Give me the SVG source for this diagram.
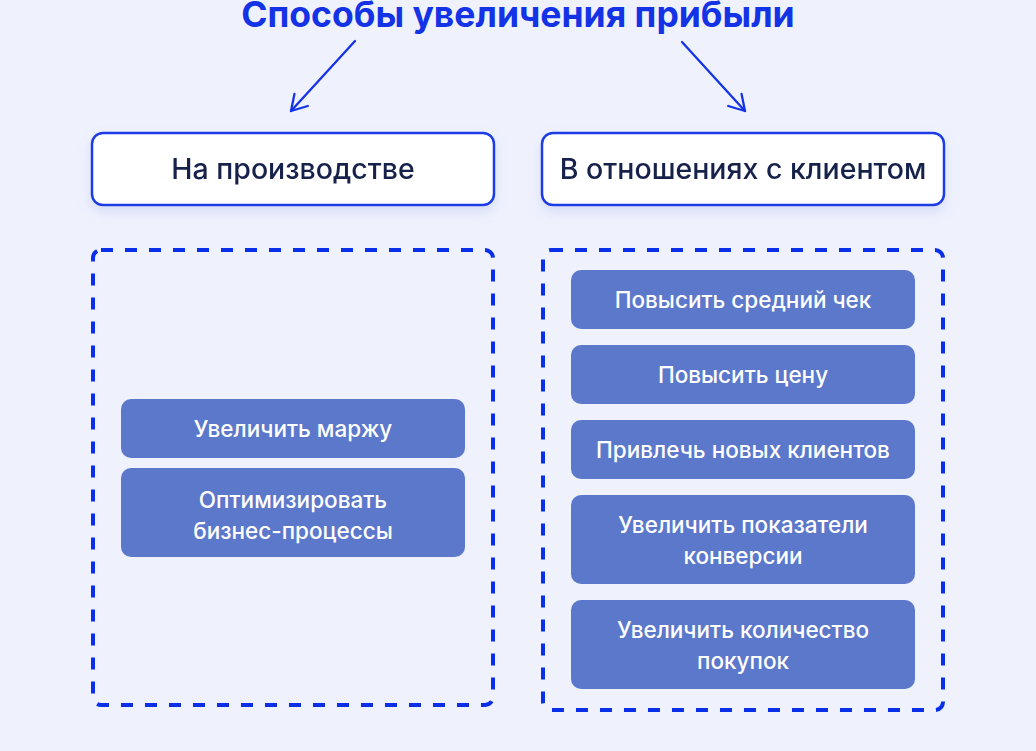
<svg xmlns="http://www.w3.org/2000/svg" width="1036" height="751" viewBox="0 0 1036 751">
  <defs>
    <filter id="sh" x="-10%" y="-30%" width="120%" height="170%">
      <feDropShadow dx="0" dy="6" stdDeviation="6" flood-color="#8C9BE0" flood-opacity="0.25"/>
    </filter>
    <marker id="ah" viewBox="0 0 22 22" refX="20" refY="11" markerWidth="22" markerHeight="22" markerUnits="userSpaceOnUse" orient="auto">
      <path d="M5,2 L20,11 L5,20" fill="none" stroke="#1433E6" stroke-width="2.3" stroke-linecap="round" stroke-linejoin="round"/>
    </marker>
  </defs>
  <style>
    .title { font-family: Inter, "Noto Sans", "DejaVu Sans", sans-serif; font-weight: 700; font-size: 35.5px; fill: #1433E6; }
    .head rect { fill: #FFFFFF; stroke: #1A3CE6; stroke-width: 2.5; }
    .head text { font-family: Inter, "Noto Sans", "DejaVu Sans", sans-serif; font-size: 28.5px; font-weight: 500; fill: #16204A; }
    .group rect { fill: none; stroke: #0A2FE8; stroke-width: 4; stroke-dasharray: 12 12; }
    .item rect { fill: #5B78CB; }
    .item text { font-family: Inter, "Noto Sans", "DejaVu Sans", sans-serif; font-size: 22.5px; font-weight: 500; fill: #FFFFFF; }
    .conn line { stroke: #1433E6; stroke-width: 2.3; stroke-linecap: round; }
  </style>
  <rect width="1036" height="751" fill="#EFF2FD"/>

  <text class="title" x="518" y="27" text-anchor="middle">Способы увеличения прибыли</text>

  <g id="connectors" class="conn">
    <line x1="355" y1="41" x2="291" y2="111" marker-end="url(#ah)"/>
    <line x1="682" y1="42" x2="745" y2="111" marker-end="url(#ah)"/>
  </g>

  <g id="head-production" class="head" filter="url(#sh)">
    <rect x="92" y="133" width="402" height="72" rx="11"/>
    <text x="293" y="179" text-anchor="middle">На производстве</text>
  </g>
  <g id="head-clients" class="head" filter="url(#sh)">
    <rect x="542" y="133" width="402" height="72" rx="11"/>
    <text x="743" y="179" text-anchor="middle">В отношениях с клиентом</text>
  </g>

  <g id="group-production" class="group">
    <rect x="93" y="250" width="400" height="455" rx="8"/>
  </g>
  <g id="group-clients" class="group">
    <rect x="543" y="250" width="400" height="460" rx="8"/>
  </g>

  <g id="item-margin" class="item">
    <rect x="121" y="399" width="344" height="59" rx="10"/>
    <text x="293" y="437" text-anchor="middle">Увеличить маржу</text>
  </g>
  <g id="item-optimize" class="item">
    <rect x="121" y="468" width="344" height="89" rx="10"/>
    <text x="293" y="508" text-anchor="middle">Оптимизировать</text>
    <text x="293" y="539" text-anchor="middle">бизнес-процессы</text>
  </g>

  <g id="item-avgcheck" class="item">
    <rect x="571" y="270" width="344" height="59" rx="10"/>
    <text x="743" y="308" text-anchor="middle">Повысить средний чек</text>
  </g>
  <g id="item-price" class="item">
    <rect x="571" y="345" width="344" height="59" rx="10"/>
    <text x="743" y="383" text-anchor="middle">Повысить цену</text>
  </g>
  <g id="item-newclients" class="item">
    <rect x="571" y="420" width="344" height="59" rx="10"/>
    <text x="743" y="458" text-anchor="middle">Привлечь новых клиентов</text>
  </g>
  <g id="item-conversion" class="item">
    <rect x="571" y="495" width="344" height="89" rx="10"/>
    <text x="743" y="533" text-anchor="middle">Увеличить показатели</text>
    <text x="743" y="564" text-anchor="middle">конверсии</text>
  </g>
  <g id="item-purchases" class="item">
    <rect x="571" y="600" width="344" height="89" rx="10"/>
    <text x="743" y="638" text-anchor="middle">Увеличить количество</text>
    <text x="743" y="669" text-anchor="middle">покупок</text>
  </g>
</svg>
